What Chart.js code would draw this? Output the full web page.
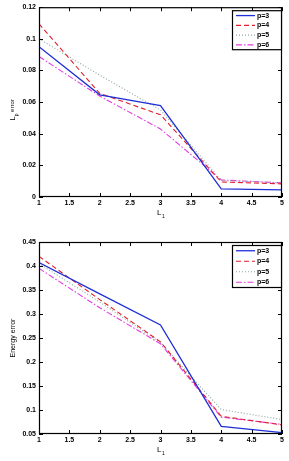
<!DOCTYPE html>
<html>
<head>
<meta charset="utf-8">
<script src="https://cdn.jsdelivr.net/npm/chart.js@4/dist/chart.umd.min.js"></script>
<style>
  body { margin: 0; background: #fff; }
  canvas { position: absolute; left: 0; }
  #lpChart { top: 0; }
  #energyChart { top: 225px; }
</style>
</head>
<body>
<canvas id="lpChart" width="289" height="222"></canvas>
<canvas id="energyChart" width="289" height="236"></canvas>
<script>
// levels L_1
const levels = [1, 2, 3, 4, 5];
const seriesLabels = ['p=3', 'p=4', 'p=5', 'p=6'];

// L_p error per polynomial degree
const lpP3 = [0.095, 0.0646, 0.0578, 0.0052, 0.0045];
const lpP4 = [0.1095, 0.0655, 0.052, 0.0095, 0.0083];
const lpP5 = [0.100, 0.077, 0.055, 0.0105, 0.009];
const lpP6 = [0.0888, 0.0638, 0.043, 0.0108, 0.0089];

// energy error per polynomial degree
const enP3 = [0.407, 0.342, 0.277, 0.066, 0.053];
const enP4 = [0.420, 0.330, 0.242, 0.087, 0.069];
const enP5 = [0.405, 0.325, 0.240, 0.101, 0.080];
const enP6 = [0.395, 0.313, 0.238, 0.085, 0.070];

const styles = [
    { color: '#1f2fd6', dash: [] },
    { color: '#e0202c', dash: [5, 3] },
    { color: '#8aa6a0', dash: [1, 2] },
    { color: '#e23ee0', dash: [6, 2, 1.5, 2] },
];

const FONT = '"Liberation Sans", Arial, sans-serif';

function makeDatasets(series) {
    return series.map((vals, i) => ({
        label: seriesLabels[i],
        data: levels.map((x, j) => ({ x: x, y: vals[j] })),
        borderColor: styles[i].color,
        borderDash: styles[i].dash,
        borderWidth: i === 0 ? 1.3 : 1.1,
        pointRadius: 0,
        fill: false,
        tension: 0,
    }));
}

// box, inner ticks, legend and axis titles, matlab style
const matlabFrame = {
    id: 'matlabFrame',
    afterDraw(chart, args, opts) {
        const ctx = chart.ctx;
        const a = chart.chartArea;
        const xs = chart.scales.x;
        const ys = chart.scales.y;
        ctx.save();
        ctx.strokeStyle = '#000';
        ctx.lineWidth = 1.2;
        ctx.setLineDash([]);
        ctx.strokeRect(a.left + 0.5, a.top + 0.5, a.right - a.left - 1, a.bottom - a.top - 1);
        ctx.lineWidth = 1;
        ctx.beginPath();
        xs.ticks.forEach((t) => {
            const px = Math.round(xs.getPixelForValue(t.value)) + 0.5;
            ctx.moveTo(px, a.bottom); ctx.lineTo(px, a.bottom - 4);
            ctx.moveTo(px, a.top); ctx.lineTo(px, a.top + 4);
        });
        ys.ticks.forEach((t) => {
            const py = Math.round(ys.getPixelForValue(t.value)) + 0.5;
            ctx.moveTo(a.left, py); ctx.lineTo(a.left + 4, py);
            ctx.moveTo(a.right, py); ctx.lineTo(a.right - 4, py);
        });
        ctx.stroke();

        // legend
        const lx = a.right - 50, ly = a.top + 3, lw = 49, lh = opts.legendHeight;
        const row = lh / 4;
        ctx.fillStyle = '#fff';
        ctx.fillRect(lx, ly, lw, lh);
        ctx.strokeStyle = '#000';
        ctx.lineWidth = 1.2;
        ctx.strokeRect(lx + 0.5, ly + 0.5, lw, lh);
        ctx.font = 'bold 7px ' + FONT;
        ctx.textBaseline = 'middle';
        ctx.textAlign = 'left';
        chart.data.datasets.forEach((ds, i) => {
            const y = ly + row * (i + 0.5) + 0.5;
            ctx.beginPath();
            ctx.strokeStyle = ds.borderColor;
            ctx.setLineDash(ds.borderDash);
            ctx.lineWidth = ds.borderWidth;
            ctx.moveTo(lx + 4, y); ctx.lineTo(lx + 23, y);
            ctx.stroke();
            ctx.fillStyle = '#000';
            ctx.fillText(ds.label, lx + 25, y);
        });
        ctx.setLineDash([]);

        // axis titles
        ctx.fillStyle = '#000';
        ctx.font = '8px ' + FONT;
        ctx.textBaseline = 'alphabetic';
        const xt = opts.xTitle;
        ctx.fillText('L', xt.x, xt.y);
        ctx.font = '5px ' + FONT;
        ctx.fillText('1', xt.x + 5, xt.y + 2.5);

        const yt = opts.yTitle;
        ctx.translate(yt.x, yt.y);
        ctx.rotate(-Math.PI / 2);
        ctx.font = '7px ' + FONT;
        ctx.textAlign = 'center';
        if (yt.sub) {
            ctx.font = '8px ' + FONT;
            const w1 = ctx.measureText('L').width;
            ctx.font = '6px ' + FONT;
            const w3 = ctx.measureText(yt.rest).width;
            ctx.font = '5px ' + FONT;
            const w2 = ctx.measureText(yt.sub).width;
            const total = w1 + w2 + w3;
            let cx = -total / 2;
            ctx.textAlign = 'left';
            ctx.font = '8px ' + FONT;
            ctx.fillText('L', cx, 0);
            ctx.font = '5px ' + FONT;
            ctx.fillText(yt.sub, cx + w1, 2.5);
            ctx.font = '6px ' + FONT;
            ctx.fillText(yt.rest, cx + w1 + w2, -1.5);
        } else {
            ctx.fillText(yt.text, 0, 0);
        }
        ctx.restore();
    },
};

function fmt(v) {
    return String(+Number(v).toFixed(3));
}

function buildChart(id, series, yMin, yMax, yStep, xAxisHeight, padTop, frameOpts) {
    const ctx = document.getElementById(id).getContext('2d');
    return new Chart(ctx, {
        type: 'line',
        data: { datasets: makeDatasets(series) },
        plugins: [matlabFrame],
        options: {
            responsive: false,
            animation: false,
            layout: { padding: { top: padTop, right: 7, left: 0, bottom: 0 } },
            plugins: {
                legend: { display: false },
                tooltip: { enabled: false },
                matlabFrame: frameOpts,
            },
            scales: {
                x: {
                    type: 'linear',
                    min: 1,
                    max: 5,
                    ticks: {
                        stepSize: 0.5,
                        color: '#000',
                        font: { family: FONT, size: 7, weight: 'bold' },
                        padding: 2,
                        maxRotation: 0,
                        callback: fmt,
                    },
                    grid: { display: false, drawTicks: false },
                    border: { display: false },
                    afterFit: (s) => { s.height = xAxisHeight; },
                },
                y: {
                    min: yMin,
                    max: yMax,
                    ticks: {
                        stepSize: yStep,
                        color: '#000',
                        font: { family: FONT, size: 7, weight: 'bold' },
                        padding: 3,
                        callback: fmt,
                    },
                    grid: { display: false, drawTicks: false },
                    border: { display: false },
                    afterFit: (s) => { s.width = 39; },
                },
            },
        },
    });
}

buildChart('lpChart', [lpP3, lpP4, lpP5, lpP6], 0, 0.12, 0.02, 25, 7, {
    legendHeight: 39,
    xTitle: { x: 157, y: 215 },
    yTitle: { x: 15, y: 110, sub: 'p', rest: ' error' },
});

buildChart('energyChart', [enP3, enP4, enP5, enP6], 0.05, 0.45, 0.05, 27, 17, {
    legendHeight: 42,
    xTitle: { x: 157, y: 227 },
    yTitle: { x: 15, y: 113, text: 'Energy error' },
});
</script>
</body>
</html>
